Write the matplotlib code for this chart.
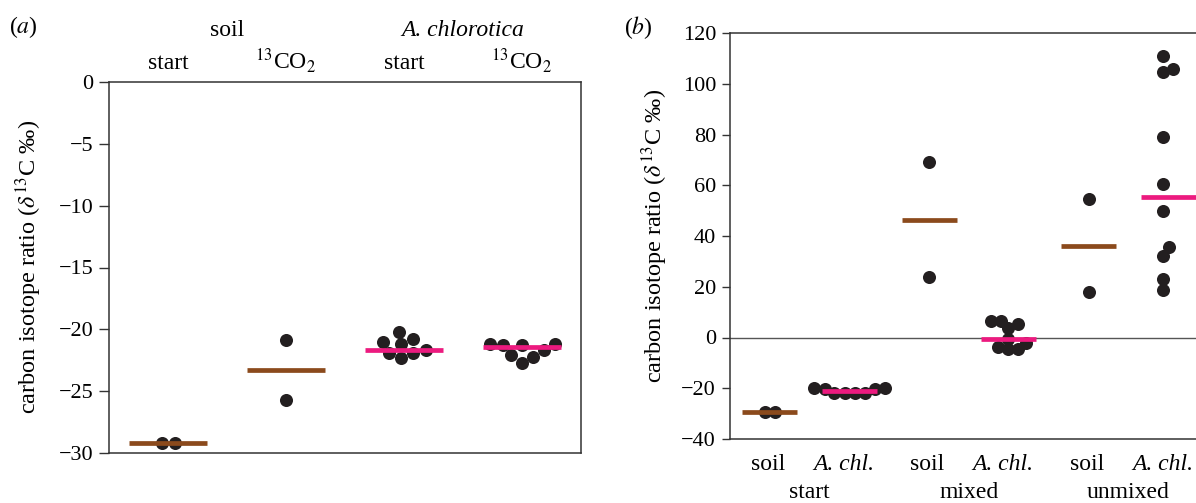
import numpy as np
import matplotlib
matplotlib.use('Agg')
import matplotlib.pyplot as plt
import matplotlib.transforms as mtransforms

plt.rcParams['font.family'] = ['Liberation Serif', 'DejaVu Serif']
plt.rcParams['mathtext.fontset'] = 'stix'
plt.rcParams['axes.unicode_minus'] = True

# panel (a): soil / A. chlorotica, start and 13CO2
a_ticks = ['start', r'$^{13}$CO$_2$', 'start', r'$^{13}$CO$_2$']
a_heads = ['soil', 'A. chlorotica']
a_soil_start = [-29.2, -29.2]
a_soil_co2 = [-20.9, -25.7]
a_chl_start = [-21.0, -21.9, -20.8, -21.9, -20.2, -21.2, -22.3, -21.7]
a_chl_co2 = [-21.3, -22.2, -21.3, -21.2, -21.7, -22.7, -21.2, -22.1]
a_centre = [-29.2, -23.3, -21.65, -21.45]

# panel (b): start / mixed / unmixed
b_ticks = ['soil', 'A. chl.', 'soil', 'A. chl.', 'soil', 'A. chl.']
b_groups = ['start', 'mixed', 'unmixed']
b_soil_start = [-29.5, -29.5]
b_chl_start = [-20.0, -21.9, -20.2, -22.0, -20.1, -21.8, -20.0, -22.0]
b_soil_mixed = [69.0, 23.8]
b_chl_mixed = [-3.6, 5.2, -0.6, -4.7, 6.6, -2.3, 6.6, 3.6, -4.7]
b_soil_unmixed = [54.7, 17.8]
b_chl_unmixed = [111.0, 105.7, 104.7, 78.9, 60.4, 49.9, 35.5, 32.1, 22.9, 18.7]
b_centre = [-29.5, -21.2, 46.4, -0.4, 36.2, 55.3]

brown = '#8b4a1c'
pink = '#ec1a7f'
dot = '#231f20'
spine_c = '#333333'
FS = 17


def swarm(ax, x0, vals, diam):
    # simple beeswarm in pixel space, returns x positions in data units
    pts = ax.transData.transform(np.column_stack([np.full(len(vals), x0), vals]))
    ypx = pts[:, 1]
    ppx = ax.transData.transform([(1, 0)])[0, 0] - ax.transData.transform([(0, 0)])[0, 0]
    offs = np.zeros(len(vals))
    placed = []
    for i in np.argsort(ypx):
        for step in range(300):
            cands = [0] if step == 0 else [step, -step]
            hit = None
            for c in cands:
                if all((c - px) ** 2 + (ypx[i] - py) ** 2 >= diam ** 2 for px, py in placed):
                    hit = c
                    break
            if hit is not None:
                offs[i] = hit
                placed.append((hit, ypx[i]))
                break
    offs -= (offs.max() + offs.min()) / 2
    return x0 + offs / ppx


def draw(ax, groups, centres, colours, half, diam):
    for k, (vals, c, col) in enumerate(zip(groups, centres, colours)):
        x0 = k + 1
        xs = swarm(ax, x0, vals, diam)
        ax.plot(xs, vals, 'o', color=dot, ms=9.4, mec='none', zorder=3)
        ax.hlines(c, x0 - half, x0 + half, color=col, lw=3.4, zorder=4)


W, H = 1196, 503
fig = plt.figure(figsize=(W / 100, H / 100), dpi=100)

# ---- panel a
axa = fig.add_axes([109 / W, 1 - 453 / H, 472 / W, 371 / H])
axa.set_xlim(0.5, 4.5)
axa.set_ylim(-30, 0)
axa.set_yticks(np.arange(-30, 1, 5))
axa.set_xticks([])
axa.tick_params(axis='y', direction='out', length=7, width=1, pad=4, labelsize=16, color=spine_c)
for s in axa.spines.values():
    s.set_color(spine_c)
    s.set_linewidth(1.1)
draw(axa, [a_soil_start, a_soil_co2, a_chl_start, a_chl_co2], a_centre,
     [brown, brown, pink, pink], 0.33, 12.5)

ta = mtransforms.blended_transform_factory(axa.transData, axa.transAxes)
for i, t in enumerate(a_ticks):
    axa.text(i + 1, 1.035, t, transform=ta, ha='center', va='baseline', fontsize=FS)
axa.text(1.5, 1.124, a_heads[0], transform=ta, ha='center', va='baseline', fontsize=FS)
axa.text(3.5, 1.124, a_heads[1], transform=ta, ha='center', va='baseline', fontsize=FS, style='italic')

# ---- panel b
axb = fig.add_axes([730 / W, 1 - 439 / H, 478 / W, 406 / H])
axb.set_xlim(0.5, 6.5)
axb.set_ylim(-40, 120)
axb.set_yticks(np.arange(-40, 121, 20))
axb.set_xticks([])
axb.tick_params(axis='y', direction='out', length=6, width=1, pad=4, labelsize=16, color=spine_c)
for s in axb.spines.values():
    s.set_color(spine_c)
    s.set_linewidth(1.1)
axb.axhline(0, color='#555555', lw=1.0, zorder=1)
draw(axb, [b_soil_start, b_chl_start, b_soil_mixed, b_chl_mixed, b_soil_unmixed, b_chl_unmixed],
     b_centre, [brown, pink, brown, pink, brown, pink], 0.345, 10)

tb = mtransforms.blended_transform_factory(axb.transData, axb.transAxes)
for i, t in enumerate(b_ticks):
    italic = 'chl' in t
    axb.text(i + 1 - (0.07 if italic else 0.02), -0.077, t, transform=tb, ha='center',
             va='baseline', fontsize=FS, style='italic' if italic else 'normal')
for i, t in enumerate(b_groups):
    axb.text(2 * i + 1.5, -0.146, t, transform=tb, ha='center', va='baseline', fontsize=FS)

# labels
ylab = r'carbon isotope ratio ($\delta^{13}$C ‰)'
fig.text(29 / W, 1 - 267 / H, ylab, rotation=90, ha='center', va='center', fontsize=17.5)
fig.text(655 / W, 1 - 236 / H, ylab, rotation=90, ha='center', va='center', fontsize=17.5)
fig.text(9 / W, 1 - 33 / H, r'($\mathit{a}$)', ha='left', va='baseline', fontsize=FS)
fig.text(624 / W, 1 - 34 / H, r'($\mathit{b}$)', ha='left', va='baseline', fontsize=FS)

fig.savefig('out.png', dpi=100)
